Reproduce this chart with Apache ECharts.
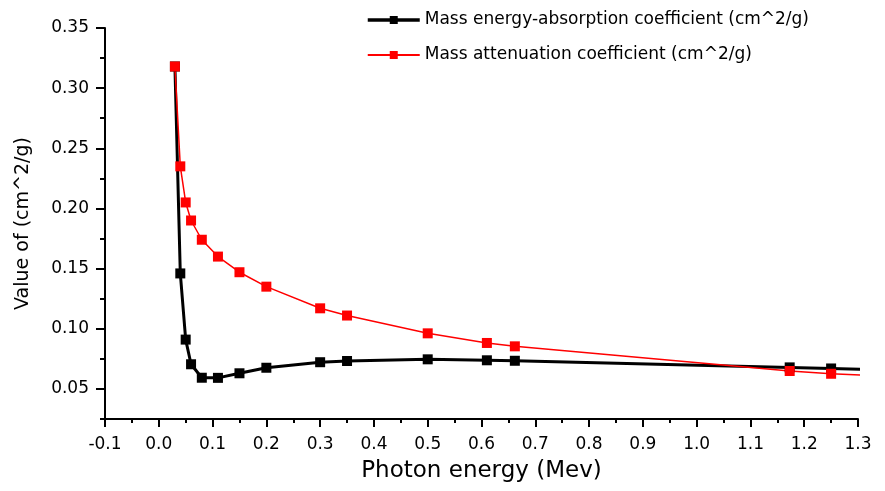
<!DOCTYPE html>
<html>
<head>
<meta charset="utf-8">
<script src="https://cdn.jsdelivr.net/npm/echarts@6/dist/echarts.min.js"></script>
<style>
    html, body { margin: 0; padding: 0; background: #fff; }
    #chart { width: 885px; height: 491px; }
</style>
</head>
<body>
<div id="chart"></div>
<script>
var energy = [0.03, 0.04, 0.05, 0.06, 0.08, 0.11, 0.15, 0.2, 0.3, 0.35, 0.5, 0.61, 0.662, 1.173, 1.25, 1.33];
var absorption = [0.318, 0.146, 0.091, 0.0705, 0.0593, 0.0592, 0.063, 0.0676, 0.0722, 0.0732, 0.0746, 0.0738, 0.0734, 0.0679, 0.067, 0.0659];
var attenuation = [0.318, 0.235, 0.205, 0.190, 0.174, 0.160, 0.147, 0.135, 0.117, 0.111, 0.0962, 0.0882, 0.0854, 0.0649, 0.0626, 0.061];
var yMajor = [0.05, 0.10, 0.15, 0.20, 0.25, 0.30, 0.35];
var yMinor = [0.025, 0.075, 0.125, 0.175, 0.225, 0.275, 0.325];

var font = 'DejaVu Sans';
var nameA = 'Mass energy-absorption coefficient (cm^2/g)';
var nameB = 'Mass attenuation coefficient (cm^2/g)';

function pairs(xs, ys) {
    return xs.map(function (x, i) { return [x, ys[i]]; });
}

var myChart = echarts.init(document.getElementById('chart'));

var option = {
    backgroundColor: '#fff',
    animation: false,
    grid: { left: 105, right: 27, top: 28, bottom: 72, containLabel: false, outerBoundsMode: 'none' },
    legend: {
        orient: 'vertical',
        left: 361,
        top: 5,
        itemWidth: 52,
        itemHeight: 10,
        itemGap: 15,
        textStyle: { fontFamily: font, fontSize: 17, color: '#000', lineHeight: 20 },
        data: [
            { name: nameA, lineStyle: { width: 3.5 } },
            { name: nameB, lineStyle: { width: 1.8 } }
        ]
    },
    xAxis: {
        type: 'value',
        min: -0.1,
        max: 1.3,
        interval: 0.1,
        name: 'Photon energy (Mev)',
        nameLocation: 'middle',
        nameGap: 41,
        nameTextStyle: { fontFamily: font, fontSize: 23, color: '#000' },
        axisLine: { onZero: false, lineStyle: { color: '#000', width: 2 } },
        axisTick: { length: 8, lineStyle: { color: '#000', width: 2 } },
        minorTick: { show: true, splitNumber: 2, length: 4, lineStyle: { color: '#000', width: 2 } },
        splitLine: { show: false },
        axisLabel: {
            margin: 17,
            fontFamily: font,
            fontSize: 17,
            color: '#000',
            formatter: function (v) { return v.toFixed(1); }
        }
    },
    yAxis: [{
        type: 'value',
        min: 0.025,
        max: 0.35,
        name: 'Value of (cm^2/g)',
        nameLocation: 'middle',
        nameGap: 72,
        nameTextStyle: { fontFamily: font, fontSize: 19, color: '#000' },
        axisLine: { onZero: false, lineStyle: { color: '#000', width: 2 } },
        axisTick: { customValues: yMajor, length: 9, lineStyle: { color: '#000', width: 2 } },
        splitLine: { show: false },
        axisLabel: {
            customValues: yMajor,
            margin: 16,
            fontFamily: font,
            fontSize: 17,
            color: '#000',
            formatter: function (v) { return v.toFixed(2); }
        }
    }, {
        type: 'value',
        position: 'left',
        min: 0.025,
        max: 0.35,
        axisLine: { show: false, onZero: false },
        axisTick: { customValues: yMinor, length: 5, lineStyle: { color: '#000', width: 2 } },
        axisLabel: { show: false },
        splitLine: { show: false }
    }],
    series: [{
        name: nameA,
        type: 'line',
        clip: true,
        symbol: 'rect',
        symbolSize: 10,
        color: '#000',
        lineStyle: { color: '#000', width: 3 },
        itemStyle: { color: '#000' },
        data: pairs(energy, absorption)
    }, {
        name: nameB,
        type: 'line',
        clip: true,
        symbol: 'rect',
        symbolSize: 10,
        color: '#ff0000',
        lineStyle: { color: '#ff0000', width: 1.5 },
        itemStyle: { color: '#ff0000' },
        data: pairs(energy, attenuation)
    }]
};
myChart.setOption(option);
</script>
</body>
</html>
